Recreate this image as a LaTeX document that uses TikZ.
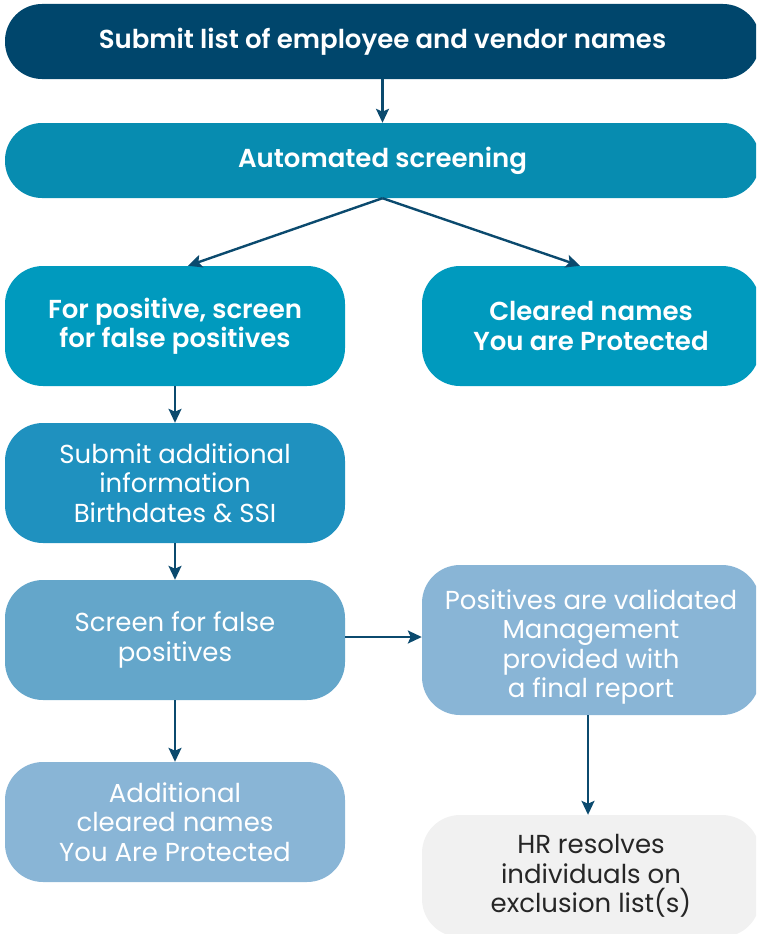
\documentclass[tikz,border=0pt]{standalone}
\usepackage{fontspec}
\setmainfont{Poppins}[BoldFont={Poppins SemiBold}]
\usetikzlibrary{arrows.meta}

\definecolor{navy}{HTML}{00466C}
\definecolor{teal}{HTML}{078CB0}
\definecolor{tealb}{HTML}{009ABE}
\definecolor{midblue}{HTML}{1F91BF}
\definecolor{softblue}{HTML}{64A6CA}
\definecolor{paleblue}{HTML}{89B5D6}
\definecolor{palegrey}{HTML}{F1F1F1}
\definecolor{arrowc}{HTML}{0B4A6E}

\tikzset{
  box/.style={rounded corners=38pt, minimum width=340pt, minimum height=120pt,
    align=center, text=white, inner sep=0pt,
    font=\fontsize{26}{29.5}\selectfont},
  heavy/.style={font=\fontsize{26}{29.5}\selectfont\bfseries},
  wide/.style={box, minimum width=755pt, minimum height=75pt, rounded corners=37pt},
  flow/.style={line width=2.4pt, arrowc, -{Stealth[length=14pt, width=13pt, inset=3pt]}}
}

\begin{document}
\begin{tikzpicture}[x=1pt, y=-1pt]
            \useasboundingbox (0,0) rectangle (756,934);
            \clip (0,0) rectangle (756,934);
            % Nodes
            \node[wide, heavy, fill=navy] (submit) at (382.5,41.5) {Submit list of employee and vendor names};
            \node[wide, heavy, fill=teal] (auto) at (382.5,160.5) {Automated screening};
            \node[box, heavy, fill=tealb] (positive) at (175,326) {For positive, screen\\for false positives};
            \node[box, heavy, fill=tealb, minimum width=338pt] (cleared) at (591,326) {Cleared names\\You are Protected};
            \node[box, fill=midblue] (extra) at (175,483) {Submit additional\\information\\Birthdates \& SSI};
            \node[box, fill=softblue] (screen) at (175,640) {Screen for false\\positives};
            \node[box, fill=paleblue, minimum width=338pt, minimum height=150pt, text height=122pt] (valid) at (591,640) {Positives are validated\\Management\\provided with\\a final report};
            \node[box, fill=paleblue] (addcleared) at (175,822) {Additional\\cleared names\\You Are Protected};
            \node[box, fill=palegrey, minimum width=338pt, minimum height=122pt, text=black!85] (hr) at (591,876) {HR resolves\\individuals on\\exclusion list(s)};

            % Lines
            \draw[flow] (submit) -- (auto);
            \draw[flow] (auto.south) -- ([xshift=13pt]positive.north);
            \draw[flow] (auto.south) -- ([xshift=-11pt]cleared.north);
            \draw[flow] (positive) -- (extra);
            \draw[flow] (extra) -- (screen);
            \draw[flow] ([yshift=3pt]screen.east) -- ([yshift=3pt]screen.east -| valid.west);
            \draw[flow] (screen) -- (addcleared);
            \draw[flow] ([xshift=-3pt]valid.south) -- ([xshift=-3pt]hr.north);
        \end{tikzpicture}
\end{document}
